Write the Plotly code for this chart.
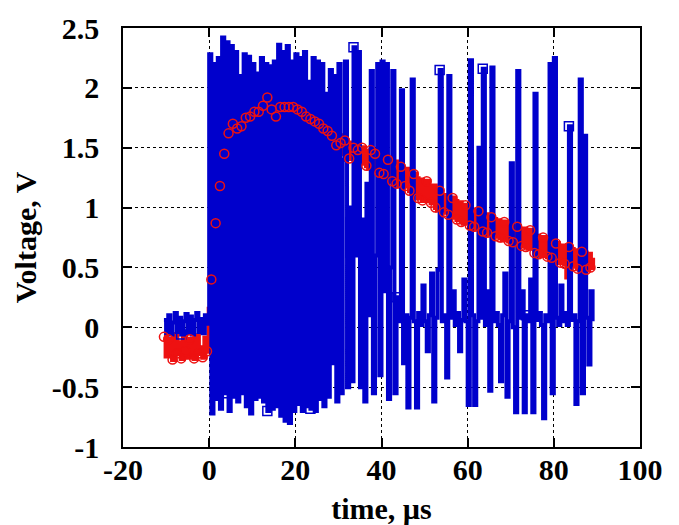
import plotly.graph_objects as go

# ---------------- data ----------------
t_start = -10.5      # first sample time, us
t_step = 0.5         # sampling interval, us

blue_pre = [0.06, -0.05, 0.1, -0.06, 0.04, 0.12, -0.04, 0.08, -0.06, 0.05,
            0.11, -0.05, 0.09, -0.06, 0.06, 0.12, -0.04, 0.07, -0.05, 0.1, 0.03]
blue_burst = [2.28, -0.72, 2.2, -0.6, 2.25, -0.68, 2.42, -0.55, 2.38, -0.7,
              2.35, -0.58, 2.3, -0.62, 2.1, -0.55, 2.28, -0.66, 2.26, -0.72,
              2.2, -0.6, 2.12, -0.58, 2.25, -0.62, 2.2, -0.7, 2.18, -0.68,
              2.22, -0.66, 2.36, -0.74, 2.3, -0.78, 2.35, -0.8, 2.22, -0.7,
              2.28, -0.64, 2.25, -0.7, 2.3, -0.66, 2.05, -0.68, 2.25, -0.7,
              2.22, -0.6, 2.2, -0.66, 1.95, -0.58, 2.15, -0.3, 2.1, -0.62]
blue_tail = [2.2, -0.55, 1.4, 2.22, -0.5, 1.0, -0.45, 2.34, 0.6, 2.3,
             -0.5, 0.9, -0.62, 1.2, 0.1, 2.14, -0.55, 0.6, 2.2, -0.4,
             2.22, 0.3, 2.2, -0.6, 0.5, 2.14, -0.55, 0.25, 0.05, 1.98,
             -0.3, 0.1, -0.67, 0.08, 2.07, 0.05, -0.67, 0.12, 0.02, 0.35,
             0.05, -0.2, 0.1, 0.45, -0.62, 0.08, 0.48, 2.15, 0.05, 0.1,
             -0.42, 2.1, 0.08, 0.3, 0.02, 0.12, -0.2, 0.06, 0.4, 0.05,
             -0.65, 2.23, 0.1, -0.65, 0.05, 1.5, 0.08, 2.16, 0.02, 0.3,
             -0.53, 2.17, 0.05, 0.12, 0.02, -0.45, 0.1, 0.45, -0.58, 0.05,
             1.37, 0.0, -0.71, 2.14, 0.08, 0.3, -0.71, 0.1, 0.05, 0.4,
             -0.71, 1.95, 0.06, 0.12, 0.02, -0.76, 0.1, 0.05, 2.2, -0.55,
             2.25, 0.08, 0.02, 0.35, 0.05, 0.12, 0.02, 1.68, 0.06, 0.1,
             -0.64, 0.05, 2.07, -0.55, 1.6, 0.08, -0.31, 0.3, 0.05]

red_pre = [-0.08, -0.24, -0.1, -0.2, -0.27, -0.06, -0.22, -0.13, -0.26, -0.08,
           -0.2, -0.25, -0.1, -0.18, -0.26, -0.07, -0.22, -0.17, -0.25, -0.09, -0.2]
red_rise = [0.15, 0.4, 0.63, 0.87, 1.02, 1.18, 1.32, 1.45, 1.5, 1.62,
            1.68, 1.7, 1.68, 1.66, 1.7, 1.68, 1.72, 1.75, 1.78, 1.76,
            1.78, 1.8, 1.75, 1.8, 1.82, 1.85, 1.84, 1.92, 1.86, 1.82,
            1.84, 1.76, 1.8, 1.84, 1.82, 1.84, 1.76, 1.84, 1.82, 1.84,
            1.78, 1.82, 1.76, 1.8, 1.74, 1.76, 1.72, 1.74, 1.68, 1.72,
            1.66, 1.7, 1.64, 1.66, 1.6, 1.64, 1.58, 1.6, 1.54, 1.52]
red_decay = [1.6, 1.54, 1.45, 1.56, 1.43, 1.41, 1.54, 1.5, 1.39, 1.48,
             1.37, 1.5, 1.47, 1.35, 1.33, 1.48, 1.31, 1.45, 1.42, 1.29,
             1.42, 1.28, 1.26, 1.4, 1.36, 1.22, 1.38, 1.2, 1.18, 1.34,
             1.32, 1.18, 1.32, 1.14, 1.12, 1.28, 1.24, 1.08, 1.23, 1.06,
             1.06, 1.22, 1.18, 1.04, 1.18, 1.0, 0.98, 1.14, 1.1, 0.96,
             1.1, 0.94, 0.92, 1.08, 1.05, 0.9, 1.04, 0.88, 0.87, 1.02,
             1.0, 0.85, 0.98, 0.84, 0.82, 0.97, 0.94, 0.8, 0.94, 0.79,
             0.77, 0.92, 0.9, 0.76, 0.89, 0.75, 0.73, 0.88, 0.85, 0.72,
             0.85, 0.71, 0.7, 0.84, 0.82, 0.68, 0.82, 0.67, 0.66, 0.81,
             0.77, 0.62, 0.76, 0.61, 0.6, 0.75, 0.73, 0.59, 0.73, 0.58,
             0.55, 0.7, 0.68, 0.54, 0.68, 0.53, 0.42, 0.67, 0.65, 0.51,
             0.64, 0.49, 0.48, 0.63, 0.62, 0.48, 0.61, 0.5, 0.58]

x_ticks = [-20, 0, 20, 40, 60, 80, 100]
x_tick_labels = ["-20", "0", "20", "40", "60", "80", "100"]
y_ticks = [-1, -0.5, 0, 0.5, 1, 1.5, 2, 2.5]
y_tick_labels = ["-1", "-0.5", "0", "0.5", "1", "1.5", "2", "2.5"]

# ---------------- assemble ----------------
blue_v = blue_pre + blue_burst + blue_tail
red_v = red_pre + red_rise + red_decay
times = [t_start + t_step * i for i in range(len(blue_v))]

BLUE = "#0000cc"
RED = "#ee1111"
FONT = "Liberation Serif"

fig = go.Figure()
# red signal line (underneath)
fig.add_trace(go.Scatter(x=times, y=red_v, mode="lines", line_shape="hv",
                         line=dict(color=RED, width=5), showlegend=False,
                         hoverinfo="skip"))
# blue signal line
fig.add_trace(go.Scatter(x=times, y=blue_v, mode="lines", line_shape="hv",
                         line=dict(color=BLUE, width=4), showlegend=False))
# blue square markers (every 20th sample)
fig.add_trace(go.Scatter(x=times[8::20], y=blue_v[8::20], mode="markers",
                         marker=dict(symbol="square-open", size=9,
                                     color=BLUE, line=dict(width=1.5, color=BLUE)),
                         showlegend=False))
# red circle markers (every 2nd sample, on top)
fig.add_trace(go.Scatter(x=times[::2], y=red_v[::2], mode="markers",
                         marker=dict(symbol="circle-open", size=9,
                                     color=RED, line=dict(width=1.5, color=RED)),
                         showlegend=False))

axis_common = dict(showline=True, linecolor="black", linewidth=1.5,
                   mirror="ticks", ticks="inside", ticklen=9, tickwidth=1.5,
                   tickcolor="black", showgrid=True, gridcolor="black",
                   griddash="dot", gridwidth=1, zeroline=False, automargin=False,
                   tickfont=dict(family=FONT, size=30, color="black", weight="bold"))

fig.update_xaxes(range=[-20, 100], tickvals=x_ticks, ticktext=x_tick_labels,
                 ticklabelstandoff=-5,
                 title=dict(text="time, \u00b5s", standoff=15,
                            font=dict(family=FONT, size=30, color="black", weight="bold")),
                 **axis_common)
fig.update_yaxes(range=[-1, 2.5], tickvals=y_ticks, ticktext=y_tick_labels,
                 ticklabelstandoff=16,
                 title=dict(text="Voltage, V", standoff=6,
                            font=dict(family=FONT, size=30, color="black", weight="bold")),
                 **axis_common)

# the page body adds an 8 px margin, so the figure is sized to fit inside it
fig.update_layout(width=671, height=517,
                  margin=dict(l=115, r=39, t=20, b=78),
                  paper_bgcolor="white", plot_bgcolor="white",
                  showlegend=False)

fig.write_html("out.html")
